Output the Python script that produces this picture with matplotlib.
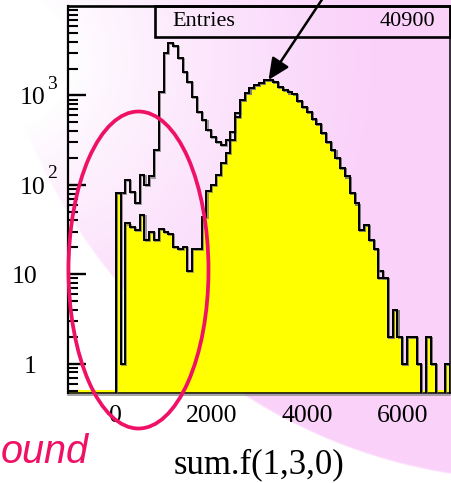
import numpy as np
import matplotlib
matplotlib.use('Agg')
import matplotlib.pyplot as plt
import matplotlib.patheffects as pe
from matplotlib.patches import Ellipse, Rectangle
from matplotlib.ticker import LogLocator, NullFormatter
from matplotlib.transforms import offset_copy

plt.rcParams['font.family'] = 'Liberation Serif'

# 70 bins of width 100 from 0 to 7000
bin_edges = np.arange(0, 7100, 100)

# all events (open histogram)
total = [81, 81, 114, 84, 63, 129, 100, 124, 246, 1100,
         2960, 3830, 3570, 2600, 1850, 1430, 970, 660, 532, 412,
         340, 300, 280, 315, 394, 640, 890, 1057, 1200, 1310,
         1390, 1490, 1490, 1400, 1250, 1150, 1080, 1040, 860, 750,
         660, 540, 480, 380, 305, 246, 199, 154, 124, 81,
         62, 31, 36, 24, 19, 11, 9, 2, 4, 2,
         1, 2, 2, 1, 0, 2, 1, 0, 0, 1]

# events after the cut (yellow)
selected = [81, 1, 37, 34, 31, 46, 24, 30, 24, 32,
            30, 28, 20, 19, 20, 11, 19, 19, 44, 85,
            100, 130, 175, 226, 318, 580, 890, 1057, 1200, 1310,
            1390, 1490, 1490, 1400, 1250, 1150, 1080, 1040, 860, 750,
            660, 540, 480, 380, 305, 246, 199, 154, 124, 81,
            62, 31, 36, 24, 19, 9, 9, 2, 4, 2,
            1, 2, 2, 1, 0, 2, 1, 0, 0, 1]

entries = 40900
xticks = [0, 2000, 4000, 6000]
ytick_vals = [1, 10, 100, 1000]
ytick_base = ['1', '10', '10', '10']
ytick_exp = ['', '', '2', '3']

W, H = 451, 483
fig = plt.figure(figsize=(W / 100, H / 100), dpi=100)

# slide background: pink blob fading to white toward the upper left
yy, xx = np.mgrid[0:H, 0:W]
r = np.sqrt(((xx - 530) / 550) ** 2 + ((yy + 100) / 580) ** 2)
inside = np.clip((1 - r) * 300, 0, 1)
glow = np.clip((np.hypot(xx, yy - 60) - 70) / 300, 0, 1) ** 0.8
f = inside * glow
pink = np.array([250, 210, 250]) / 255
img = 1 - f[..., None] * (1 - pink)
bg = fig.add_axes([0, 0, 1, 1], zorder=-1)
bg.imshow(img, aspect='auto', interpolation='bilinear')
bg.axis('off')

ax = fig.add_axes([68 / W, 90 / H, 382 / W, 387 / H])
ax.set_facecolor('none')
ax.set_yscale('log')

floor = 1e-2
tot = np.array(total, float)
sel = np.array(selected, float)
tot_d = np.where(tot > 0, tot, floor)
sel_d = np.where(sel > 0, sel, floor)

shadow = [pe.SimpleLineShadow(offset=(0.8, -0.8), shadow_color='0.45', alpha=0.7),
          pe.Normal()]
ax.add_patch(Rectangle((0, 0), 1, 0.008, transform=ax.transAxes,
                       color='#ffff00', lw=0, zorder=0.5))
ax.stairs(sel_d, bin_edges, baseline=floor, fill=True, color='#ffff00',
          lw=0, zorder=1)
ax.stairs(tot_d, bin_edges, baseline=floor, color='black', lw=1.4,
          zorder=2, path_effects=shadow)
ax.stairs(sel_d, bin_edges, baseline=floor, color='black', lw=1.4,
          zorder=3, path_effects=shadow)

ax.set_xlim(-1000, 7000)
ax.set_ylim(0.47, 1e4)

ax.set_xticks(xticks)
ax.set_xticklabels([str(t) for t in xticks])
ax.tick_params(axis='x', length=0, pad=9, labelsize=18.5)

ax.set_yticks(ytick_vals)
ax.yaxis.set_minor_locator(LogLocator(subs=np.arange(2, 10), numticks=20))
ax.yaxis.set_minor_formatter(NullFormatter())
ax.tick_params(axis='y', which='major', direction='in', length=13, width=1.7,
               labelleft=False)
ax.tick_params(axis='y', which='minor', direction='in', length=7, width=1.5,
               labelleft=False)

# ROOT style labels: 1, 10, 10^2, 10^3
ytr = ax.get_yaxis_transform()
for v, base, exp in zip(ytick_vals, ytick_base, ytick_exp):
    if exp:
        t1 = offset_copy(ytr, fig=fig, x=-23, y=-3, units='dots')
        ax.text(0, v, base, transform=t1, ha='right', va='center', fontsize=18.5)
        t2 = offset_copy(ytr, fig=fig, x=-21, y=11, units='dots')
        ax.text(0, v, exp, transform=t2, ha='left', va='center', fontsize=14)
    else:
        t1 = offset_copy(ytr, fig=fig, x=-31, y=-3, units='dots')
        ax.text(0, v, base, transform=t1, ha='right', va='center', fontsize=18.5)

ax.set_xlabel('sum.f(1,3,0)', fontsize=25, va='center')
ax.xaxis.set_label_coords(0.5, -72 / 387)

for name, lw in [('top', 1.9), ('left', 1.6), ('bottom', 1.1), ('right', 1.1)]:
    ax.spines[name].set_color('black')
    ax.spines[name].set_linewidth(lw)
ax.spines['bottom'].set_path_effects(
    [pe.SimpleLineShadow(offset=(0, -1.2), shadow_color='0.55', alpha=1), pe.Normal()])

# statistics box
bx = (155 - 68) / 382
by = (393 - 37) / 387
ax.add_patch(Rectangle((bx, by), 1 - bx, 1 - by, transform=ax.transAxes,
                       fill=False, ec='black', lw=1.9, clip_on=False, zorder=5))
ax.text((172 - 68) / 382, (393 - 21) / 387, 'Entries', transform=ax.transAxes,
        ha='left', va='center', fontsize=16)
ax.text((435 - 68) / 382, (393 - 21) / 387, f'{entries}', transform=ax.transAxes,
        ha='right', va='center', fontsize=16)

# arrow onto the signal peak
imax = int(np.argmax(sel))
ax.annotate('', xy=(bin_edges[imax + 1], sel[imax]), xycoords='data',
            xytext=(325, H + 5), textcoords='figure pixels',
            arrowprops=dict(arrowstyle='-|>,head_length=0.65,head_width=0.3',
                            color='black', lw=1.8, mutation_scale=20,
                            shrinkA=0, shrinkB=0),
            annotation_clip=False, zorder=6)

# background region marked by hand
fig.add_artist(Ellipse((138.5 / W, 1 - 270 / H), 140 / W, 317 / H,
                       transform=fig.transFigure, fill=False,
                       ec='#ee1166', lw=2.7))
fig.text(1 / W, 20 / H, 'ound', ha='left', va='baseline',
         color='#ee1166', fontsize=28.5, style='italic', family='Liberation Sans')

fig.savefig('out.png', dpi=100)
